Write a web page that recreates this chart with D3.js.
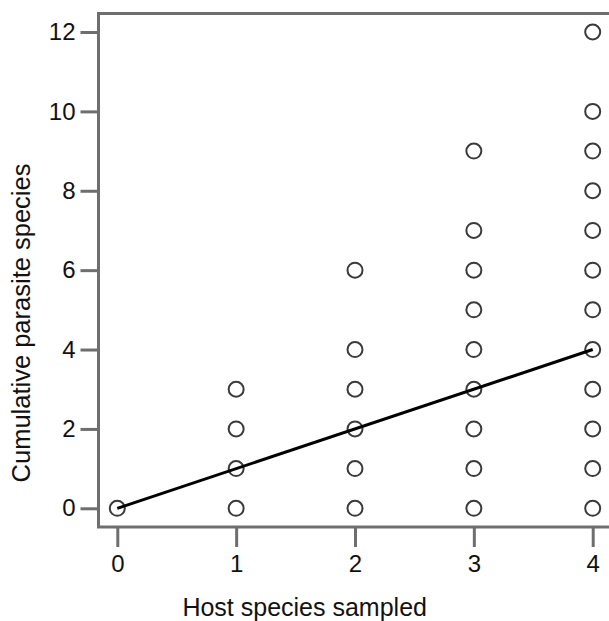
<html>
    <head>
        <style>
            body { margin: 0; background: #fff; }
            text { font-family: Arial, "Liberation Sans", sans-serif; }
        </style>
        <script src="https://d3js.org/d3.v7.min.js"></script>
    </head>
    <body>
        <svg width="609" height="621"></svg>
        <script>
            // data
            const hosts = [0, 1, 2, 3, 4];
            const parasiteCounts = [
                [0],
                [0, 1, 2, 3],
                [0, 1, 2, 3, 4, 6],
                [0, 1, 2, 3, 4, 5, 6, 7, 9],
                [0, 1, 2, 3, 4, 5, 6, 7, 8, 9, 10, 12]
            ];
            const fitX = [0, 4];
            const fitY = [0, 4];
            const xTicks = [0, 1, 2, 3, 4];
            const yTicks = [0, 2, 4, 6, 8, 10, 12];

            const svg = d3.select('svg');
            const frameLeft = 98.5, frameTop = 13.5, frameBottom = 527;

            const x = d3.scaleLinear().domain([0, 4]).range([117.3, 592.7]);
            const y = d3.scaleLinear().domain([0, 12]).range([508.3, 32]);

            // frame: left, top and bottom (the right side falls off the image)
            svg.append('path')
                .attr('d', `M 640 ${frameTop} H ${frameLeft} V ${frameBottom} H 640`)
                .attr('fill', 'none')
                .attr('stroke', '#6e6e6e')
                .attr('stroke-width', 3);

            // axes
            const yAxis = svg.append('g')
                .attr('transform', `translate(${frameLeft},0)`)
                .call(d3.axisLeft(y).tickValues(yTicks).tickFormat(d3.format('d')).tickSize(18).tickPadding(5));
            const xAxis = svg.append('g')
                .attr('transform', `translate(0,${frameBottom})`)
                .call(d3.axisBottom(x).tickValues(xTicks).tickFormat(d3.format('d')).tickSize(20).tickPadding(8));

            [yAxis, xAxis].forEach(function(g) {
                g.select('.domain').remove();
                g.selectAll('line').attr('stroke', '#6e6e6e').attr('stroke-width', 3);
                g.selectAll('text')
                    .attr('fill', '#111')
                    .style('font-size', '24px')
                    .style('font-family', 'Arial, "Liberation Sans", sans-serif');
            });

            // points
            const points = [];
            hosts.forEach(function(h, i) {
                parasiteCounts[i].forEach(function(p) { points.push([h, p]); });
            });
            svg.append('g')
                .selectAll('circle')
                .data(points)
                .join('circle')
                .attr('cx', d => x(d[0]))
                .attr('cy', d => y(d[1]))
                .attr('r', 7.5)
                .attr('fill', 'none')
                .attr('stroke', '#3a3a3a')
                .attr('stroke-width', 2);

            // fitted line
            svg.append('path')
                .datum(fitX.map((v, i) => [v, fitY[i]]))
                .attr('d', d3.line().x(d => x(d[0])).y(d => y(d[1])))
                .attr('fill', 'none')
                .attr('stroke', '#000')
                .attr('stroke-width', 3);

            // axis titles
            svg.append('text')
                .attr('x', 304.7)
                .attr('y', 616)
                .attr('text-anchor', 'middle')
                .style('font-size', '25px')
                .attr('fill', '#111')
                .text('Host species sampled');

            svg.append('text')
                .attr('transform', 'translate(30,323) rotate(-90)')
                .attr('text-anchor', 'middle')
                .style('font-size', '25.5px')
                .attr('fill', '#111')
                .text('Cumulative parasite species');
        </script>
    </body>
</html>
